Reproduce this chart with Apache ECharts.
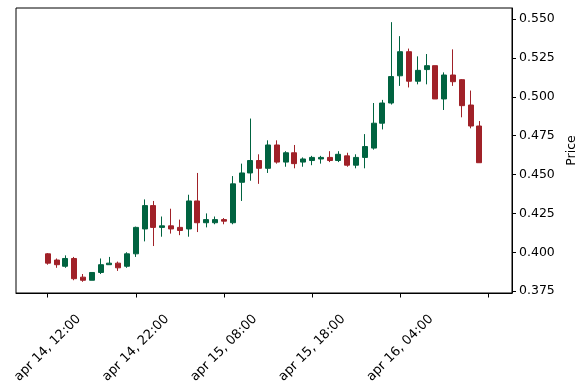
<!DOCTYPE html>
<html>
<head>
<meta charset="utf-8">
<script src="https://cdn.jsdelivr.net/npm/echarts@6/dist/echarts.min.js"></script>
<style>
html,body{margin:0;padding:0;background:#fff;}
#chart{width:588px;height:389px;}
</style>
</head>
<body>
<div id="chart"></div>
<script>
// hourly candles starting apr 14, 12:00
const openVals  = [0.399,0.395,0.391,0.396,0.384,0.382,0.387,0.392,0.393,0.391,
                   0.399,0.415,0.430,0.416,0.417,0.416,0.415,0.433,0.419,0.419,
                   0.421,0.419,0.445,0.451,0.459,0.454,0.469,0.458,0.464,0.458,
                   0.459,0.460,0.461,0.459,0.462,0.456,0.461,0.467,0.483,0.496,
                   0.5135,0.529,0.510,0.5175,0.520,0.4986,0.514,0.511,0.4947,0.4812];
const closeVals = [0.393,0.392,0.396,0.383,0.382,0.387,0.392,0.393,0.390,0.399,
                   0.416,0.430,0.416,0.417,0.415,0.414,0.433,0.419,0.421,0.421,
                   0.420,0.444,0.451,0.459,0.454,0.469,0.458,0.464,0.457,0.460,
                   0.461,0.461,0.459,0.463,0.456,0.461,0.468,0.483,0.496,0.513,
                   0.529,0.510,0.517,0.520,0.4986,0.514,0.5097,0.4943,0.4812,0.4576];
const lowVals   = [0.392,0.390,0.390,0.382,0.381,0.382,0.386,0.392,0.388,0.390,
                   0.397,0.407,0.404,0.410,0.412,0.411,0.410,0.413,0.416,0.418,
                   0.418,0.418,0.433,0.446,0.444,0.451,0.457,0.455,0.454,0.455,
                   0.456,0.457,0.458,0.458,0.455,0.454,0.454,0.466,0.479,0.495,
                   0.507,0.506,0.508,0.508,0.4986,0.4915,0.507,0.4868,0.4797,0.4576];
const highVals  = [0.3995,0.396,0.398,0.397,0.386,0.387,0.396,0.397,0.394,0.400,
                   0.4165,0.434,0.433,0.423,0.428,0.421,0.437,0.451,0.425,0.423,
                   0.422,0.449,0.457,0.486,0.463,0.472,0.472,0.465,0.469,0.461,
                   0.462,0.462,0.465,0.465,0.464,0.463,0.476,0.496,0.498,0.548,
                   0.539,0.531,0.526,0.5275,0.520,0.5157,0.5305,0.5114,0.504,0.4844];
const xTickIndex  = [0,10,20,30,40,50];
const xTickLabels = ['apr 14, 12:00','apr 14, 22:00','apr 15, 08:00','apr 15, 18:00','apr 16, 04:00',''];
const yTicks      = [0.375,0.400,0.425,0.450,0.475,0.500,0.525,0.550];

const candleData = openVals.map((o,i)=>[i,o,closeVals[i],lowVals[i],highVals[i]]);

const chart = echarts.init(document.getElementById('chart'), null, {renderer:'canvas'});
const font = 'DejaVu Sans';
chart.setOption({
  animation:false,
  backgroundColor:'#fff',
  grid:{left:16,right:76,top:8,bottom:96,show:true,borderColor:'#000',borderWidth:1,backgroundColor:'transparent'},
  xAxis:{
    type:'value', min:-3.6, max:52.7,
    splitLine:{show:false},
    axisLine:{show:true,onZero:false,lineStyle:{color:'#000',width:1}},
    axisTick:{show:true,customValues:xTickIndex,length:4.5,lineStyle:{color:'#000',width:1}},
    axisLabel:{
      customValues:xTickIndex,
      formatter:function(v){const k=xTickIndex.indexOf(Math.round(v));return k>=0?xTickLabels[k]:'';},
      rotate:45, align:'center', verticalAlign:'middle', margin:55,
      color:'#000', fontFamily:font, fontSize:13
    }
  },
  yAxis:{
    type:'value', position:'right', min:0.3738, max:0.5571, scale:true,
    splitLine:{show:false},
    axisLine:{show:true,onZero:false,lineStyle:{color:'#000',width:1}},
    axisTick:{show:true,customValues:yTicks,length:4,lineStyle:{color:'#000',width:1}},
    axisLabel:{customValues:yTicks,formatter:function(v){return v.toFixed(3);},margin:7,color:'#000',fontFamily:font,fontSize:12.5},
    name:'Price', nameLocation:'middle', nameGap:53, nameRotate:90,
    nameTextStyle:{color:'#000',fontFamily:font,fontSize:12.5}
  },
  series:[{
    type:'candlestick',
    data:candleData,
    encode:{x:0,y:[1,2,3,4]},
    barWidth:5.5,
    itemStyle:{color:'#006340',color0:'#A02128',borderColor:'#006340',borderColor0:'#A02128',borderWidth:1}
  }]
});
</script>
</body>
</html>
